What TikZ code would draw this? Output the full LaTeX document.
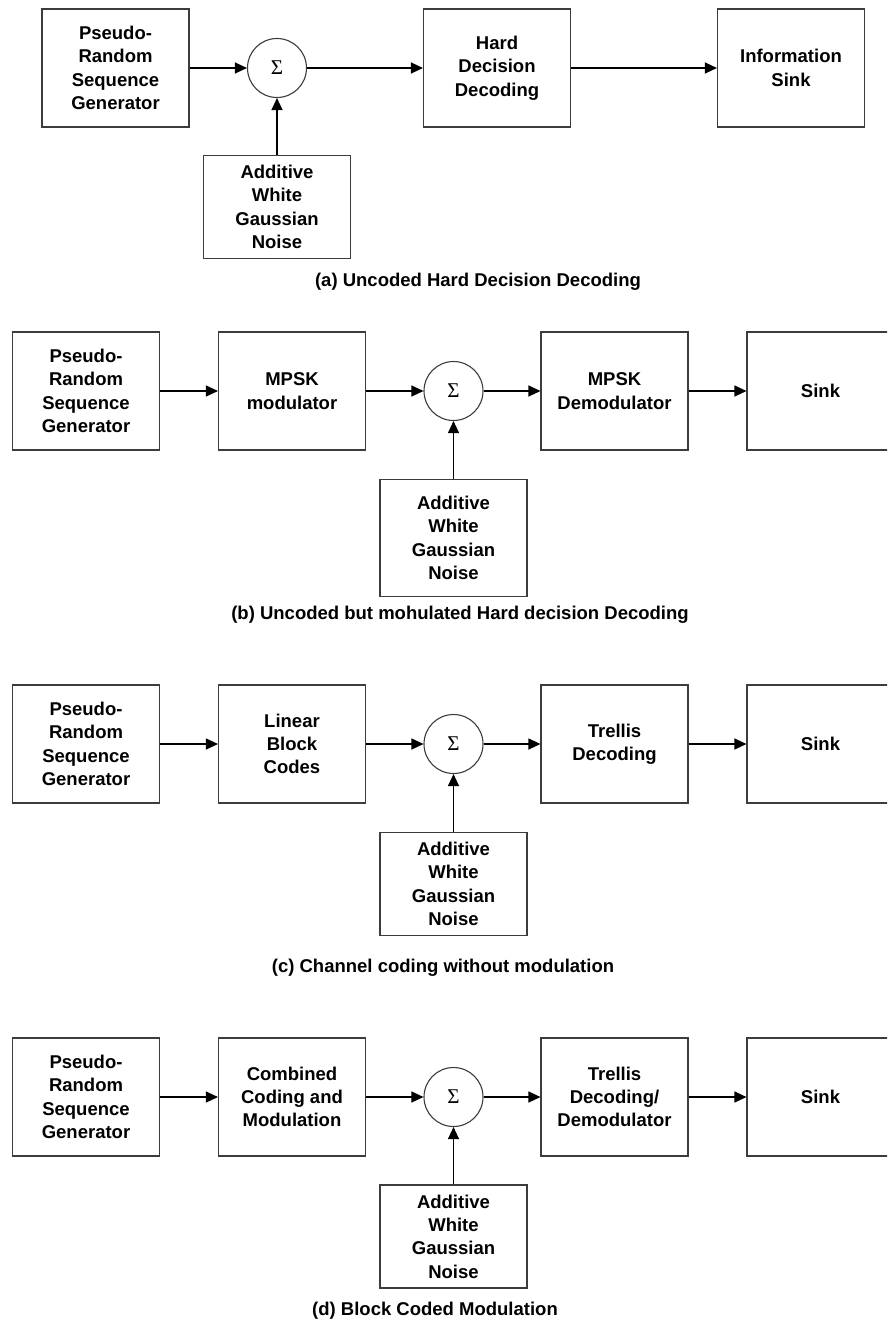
\documentclass[tikz,border=0pt]{standalone}
\usepackage{fontspec}
\setmainfont{Liberation Sans}
\newfontfamily\sigmafont{Liberation Serif}
\usepackage{tikz}
\usetikzlibrary{arrows.meta}
\definecolor{boxgray}{RGB}{60,60,60}

\begin{document}
\begin{tikzpicture}[
    x=1pt, y=-1pt, line width=1.1pt,
    blk/.style={draw=boxgray, minimum width=147pt, minimum height=118pt, inner sep=0pt, align=center, font=\fontsize{18.5}{23.3}\selectfont\bfseries},
    noise/.style={blk, minimum height=103pt},
    sum/.style={draw=boxgray, circle, minimum size=59pt, inner sep=0pt, font=\sigmafont\fontsize{21}{21}\selectfont},
    caption/.style={font=\fontsize{18.5}{22}\selectfont\bfseries},
    >={Triangle[length=12pt,width=11pt]}
]
\clip (0,0) rectangle (887,1322);

% (a)
\node[blk] (prsgA) at (115.5, 68) {Pseudo-\\Random\\Sequence\\Generator};
\node[sum] (sumA) at (277, 68) {Σ};
\node[noise] (awgnA) at (277, 207) {Additive\\White\\Gaussian\\Noise};
\node[blk] (hddA) at (497, 68) {Hard\\Decision\\Decoding};
\node[blk] (sinkA) at (791, 68) {Information\\Sink};
\node[caption] (capA) at (478, 282) {(a) Uncoded Hard Decision Decoding};

\draw[->] (prsgA) -- (sumA);
\draw[->] (awgnA) -- (sumA);
\draw[->] (sumA) -- (hddA);
\draw[->] (hddA) -- (sinkA);

% (b)
\node[blk] (prsgB) at (86, 391) {Pseudo-\\Random\\Sequence\\Generator};
\node[blk] (modB) at (292, 391) {MPSK\\modulator};
\node[sum] (sumB) at (453.5, 391) {Σ};
\node[noise, minimum height=117pt] (awgnB) at (453.5, 538) {Additive\\White\\Gaussian\\Noise};
\node[blk] (demodB) at (614.5, 391) {MPSK\\Demodulator};
\node[blk] (sinkB) at (820.5, 391) {Sink};
\node[caption] (capB) at (460, 615) {(b) Uncoded but mohulated Hard decision Decoding};

\draw[->] (prsgB) -- (modB);
\draw[->] (modB) -- (sumB);
\draw[->] (awgnB) -- (sumB);
\draw[->] (sumB) -- (demodB);
\draw[->] (demodB) -- (sinkB);

% (c)
\node[blk] (prsgC) at (86, 744) {Pseudo-\\Random\\Sequence\\Generator};
\node[blk] (lbcC) at (292, 744) {Linear\\Block\\Codes};
\node[sum] (sumC) at (453.5, 744) {Σ};
\node[noise] (awgnC) at (453.5, 884) {Additive\\White\\Gaussian\\Noise};
\node[blk] (trelC) at (614.5, 744) {Trellis\\Decoding};
\node[blk] (sinkC) at (820.5, 744) {Sink};
\node[caption] (capC) at (443, 968) {(c) Channel coding without modulation};

\draw[->] (prsgC) -- (lbcC);
\draw[->] (lbcC) -- (sumC);
\draw[->] (awgnC) -- (sumC);
\draw[->] (sumC) -- (trelC);
\draw[->] (trelC) -- (sinkC);

% (d)
\node[blk] (prsgD) at (86, 1097) {Pseudo-\\Random\\Sequence\\Generator};
\node[blk] (ccmD) at (292, 1097) {Combined\\Coding and\\Modulation};
\node[sum] (sumD) at (453.5, 1097) {Σ};
\node[noise] (awgnD) at (453.5, 1236.5) {Additive\\White\\Gaussian\\Noise};
\node[blk] (trelD) at (614.5, 1097) {Trellis\\Decoding/\\Demodulator};
\node[blk] (sinkD) at (820.5, 1097) {Sink};
\node[caption] (capD) at (435, 1311) {(d) Block Coded Modulation};

\draw[->] (prsgD) -- (ccmD);
\draw[->] (ccmD) -- (sumD);
\draw[->] (awgnD) -- (sumD);
\draw[->] (sumD) -- (trelD);
\draw[->] (trelD) -- (sinkD);
\end{tikzpicture}
\end{document}
